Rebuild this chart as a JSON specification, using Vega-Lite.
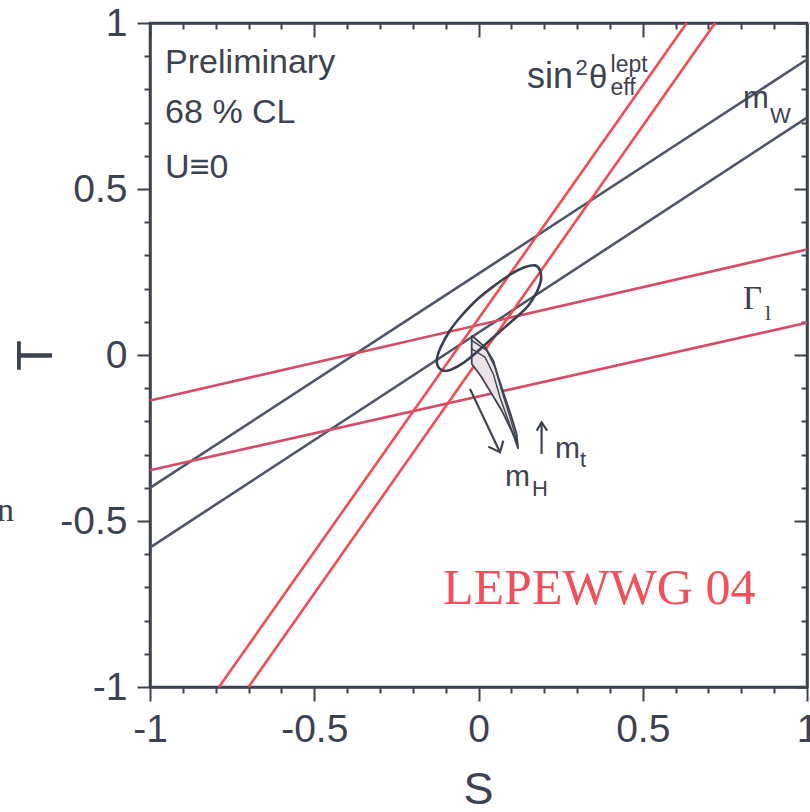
{
  "$schema": "https://vega.github.io/schema/vega-lite/v6.json",
  "width": 657,
  "height": 664,
  "autosize": {"type": "none"},
  "padding": {"left": 150, "top": 23, "right": 3, "bottom": 125},
  "background": "white",
  "config": {
    "view": {"stroke": "#3d4250", "strokeWidth": 2.5},
    "font": "Liberation Sans",
    "axis": {"grid": false, "domainColor": "#3d4250", "domainWidth": 2.5, "tickColor": "#3d4250", "tickWidth": 2, "labelColor": "#3d4250", "titleColor": "#3d4250", "labelFont": "Liberation Sans", "titleFont": "Liberation Sans", "labelFontSize": 39, "titleFontWeight": "normal", "labelOverlap": false, "labelFlush": false, "labelBound": false}
  },
  "datasets": {
    "lines": [
      {"id": "mW1", "g": "mW", "o": 0, "S": -1, "T": -0.40},
      {"id": "mW1", "g": "mW", "o": 1, "S": 1, "T": 0.89},
      {"id": "mW2", "g": "mW", "o": 0, "S": -1, "T": -0.58},
      {"id": "mW2", "g": "mW", "o": 1, "S": 1, "T": 0.715},
      {"id": "G1", "g": "Gl", "o": 0, "S": -1, "T": -0.137},
      {"id": "G1", "g": "Gl", "o": 1, "S": 1, "T": 0.318},
      {"id": "G2", "g": "Gl", "o": 0, "S": -1, "T": -0.347},
      {"id": "G2", "g": "Gl", "o": 1, "S": 1, "T": 0.097},
      {"id": "s1", "g": "sin", "o": 0, "S": -0.79, "T": -1},
      {"id": "s1", "g": "sin", "o": 1, "S": 0.634, "T": 1},
      {"id": "s2", "g": "sin", "o": 0, "S": -0.70, "T": -1},
      {"id": "s2", "g": "sin", "o": 1, "S": 0.72, "T": 1}
    ],
    "ellipse": [
      {"o": 1, "S": 0.172, "T": 0.270},
      {"o": 2, "S": 0.187, "T": 0.255},
      {"o": 3, "S": 0.190, "T": 0.225},
      {"o": 4, "S": 0.177, "T": 0.189},
      {"o": 5, "S": 0.152, "T": 0.149},
      {"o": 6, "S": 0.121, "T": 0.119},
      {"o": 7, "S": 0.081, "T": 0.084},
      {"o": 8, "S": 0.040, "T": 0.049},
      {"o": 9, "S": -0.011, "T": 0.004},
      {"o": 10, "S": -0.051, "T": -0.027},
      {"o": 11, "S": -0.092, "T": -0.047},
      {"o": 12, "S": -0.117, "T": -0.042},
      {"o": 13, "S": -0.127, "T": -0.017},
      {"o": 14, "S": -0.117, "T": 0.019},
      {"o": 15, "S": -0.087, "T": 0.074},
      {"o": 16, "S": -0.051, "T": 0.119},
      {"o": 17, "S": -0.001, "T": 0.170},
      {"o": 18, "S": 0.050, "T": 0.210},
      {"o": 19, "S": 0.101, "T": 0.245},
      {"o": 20, "S": 0.142, "T": 0.265}
    ],
    "wedge": [
      {"o": 1, "S": -0.0207, "T": 0.0588},
      {"o": 2, "S": 0.0198, "T": 0.0235},
      {"o": 3, "S": 0.045, "T": -0.0166},
      {"o": 4, "S": 0.0603, "T": -0.067},
      {"o": 5, "S": 0.0807, "T": -0.127},
      {"o": 6, "S": 0.101, "T": -0.188},
      {"o": 7, "S": 0.116, "T": -0.238},
      {"o": 8, "S": 0.121, "T": -0.283},
      {"o": 9, "S": 0.110, "T": -0.250},
      {"o": 10, "S": 0.0959, "T": -0.218},
      {"o": 11, "S": 0.0706, "T": -0.167},
      {"o": 12, "S": 0.0402, "T": -0.117},
      {"o": 13, "S": 0.0097, "T": -0.067},
      {"o": 14, "S": -0.0207, "T": -0.0265},
      {"o": 15, "S": -0.0207, "T": 0.0588}
    ],
    "inner": [
      {"id": "i1", "o": 1, "S": -0.0207, "T": 0.0187},
      {"id": "i1", "o": 2, "S": 0.0198, "T": -0.0066},
      {"id": "i1", "o": 3, "S": 0.045, "T": -0.057},
      {"id": "i1", "o": 4, "S": 0.0654, "T": -0.127},
      {"id": "i1", "o": 5, "S": 0.0908, "T": -0.198},
      {"id": "i1", "o": 6, "S": 0.116, "T": -0.268},
      {"id": "i2", "o": 1, "S": -0.0207, "T": 0.044},
      {"id": "i2", "o": 2, "S": 0.025, "T": 0.0136},
      {"id": "i2", "o": 3, "S": 0.050, "T": -0.037},
      {"id": "i2", "o": 4, "S": 0.0706, "T": -0.107},
      {"id": "i2", "o": 5, "S": 0.096, "T": -0.188},
      {"id": "i2", "o": 6, "S": 0.119, "T": -0.268}
    ],
    "arrows": [
      {"id": "aH", "o": 0, "S": -0.026, "T": -0.102},
      {"id": "aH", "o": 1, "S": 0.0655, "T": -0.293},
      {"id": "hH", "o": 0, "S": 0.0298, "T": -0.276},
      {"id": "hH", "o": 1, "S": 0.0655, "T": -0.293},
      {"id": "hH", "o": 2, "S": 0.0755, "T": -0.258},
      {"id": "at", "o": 0, "S": 0.192, "T": -0.298},
      {"id": "at", "o": 1, "S": 0.192, "T": -0.203},
      {"id": "ht", "o": 0, "S": 0.177, "T": -0.228},
      {"id": "ht", "o": 1, "S": 0.192, "T": -0.203},
      {"id": "ht", "o": 2, "S": 0.209, "T": -0.228}
    ],
    "sans": [
      {"S": -0.954, "T": 0.849, "txt": "Preliminary", "sz": 34},
      {"S": -0.954, "T": 0.698, "txt": "68 % CL", "sz": 34},
      {"S": -0.954, "T": 0.532, "txt": "U≡0", "sz": 34},
      {"S": 0.148, "T": 0.804, "txt": "sin", "sz": 36},
      {"S": 0.295, "T": 0.843, "txt": "2", "sz": 22},
      {"S": 0.336, "T": 0.804, "txt": "θ", "sz": 33},
      {"S": 0.402, "T": 0.852, "txt": "lept", "sz": 23},
      {"S": 0.402, "T": 0.783, "txt": "eff", "sz": 23},
      {"S": 0.805, "T": 0.744, "txt": "m", "sz": 31},
      {"S": 0.887, "T": 0.698, "txt": "W", "sz": 22},
      {"S": 0.233, "T": -0.309, "txt": "m", "sz": 30},
      {"S": 0.309, "T": -0.336, "txt": "t", "sz": 22},
      {"S": 0.081, "T": -0.394, "txt": "m", "sz": 30},
      {"S": 0.163, "T": -0.424, "txt": "H", "sz": 22}
    ],
    "serif": [
      {"S": 0.805, "T": 0.140, "txt": "Γ", "sz": 33},
      {"S": 0.872, "T": 0.104, "txt": "l", "sz": 22},
      {"S": -1.466, "T": -0.499, "txt": "n", "sz": 34}
    ],
    "stamp": [
      {"S": -0.108, "T": -0.750, "txt": "LEPEWWG 04"}
    ]
  },
  "layer": [
    {
      "data": {"name": "lines"},
      "mark": {"type": "line", "strokeWidth": 2.6},
      "encoding": {
        "x": {"field": "S", "type": "quantitative", "scale": {"domain": [-1, 1], "nice": false, "zero": false},
          "axis": {"orient": "bottom", "title": "S", "titleFontSize": 45, "values": [-1, -0.9, -0.8, -0.7, -0.6, -0.5, -0.4, -0.3, -0.2, -0.1, 0, 0.1, 0.2, 0.3, 0.4, 0.5, 0.6, 0.7, 0.8, 0.9, 1],
            "tickSize": {"condition": {"test": "abs(datum.value*2-round(datum.value*2))<0.001", "value": 14}, "value": 6},
            "labelExpr": "abs(datum.value*2-round(datum.value*2))<0.001 ? toString(datum.value) : ''",
            "labelPadding": 9, "titleX": 328, "titleY": 102, "titleBaseline": "middle"}},
        "y": {"field": "T", "type": "quantitative", "scale": {"domain": [-1, 1], "nice": false, "zero": false},
          "axis": {"orient": "left", "title": "T", "titleFontSize": 50, "values": [-1, -0.9, -0.8, -0.7, -0.6, -0.5, -0.4, -0.3, -0.2, -0.1, 0, 0.1, 0.2, 0.3, 0.4, 0.5, 0.6, 0.7, 0.8, 0.9, 1],
            "tickSize": {"condition": {"test": "abs(datum.value*2-round(datum.value*2))<0.001", "value": 13}, "value": 6},
            "labelExpr": "abs(datum.value*2-round(datum.value*2))<0.001 ? toString(datum.value) : ''",
            "labelPadding": 10, "titleX": -114, "titleY": 332, "titleBaseline": "middle"}},
        "detail": {"field": "id"},
        "order": {"field": "o"},
        "color": {"field": "g", "type": "nominal", "legend": null, "scale": {"domain": ["mW", "sin", "Gl"], "range": ["#4e5567", "#f24b55", "#d64b68"]}}
      }
    },
    {
      "data": {"name": "wedge"},
      "mark": {"type": "line", "fill": "#ebe3e8", "stroke": "#3d4250", "strokeWidth": 1.8},
      "encoding": {
        "x": {"field": "S", "type": "quantitative", "scale": {"domain": [-1, 1], "nice": false, "zero": false},
          "axis": {"orient": "top", "title": null, "labels": false, "values": [-1, -0.9, -0.8, -0.7, -0.6, -0.5, -0.4, -0.3, -0.2, -0.1, 0, 0.1, 0.2, 0.3, 0.4, 0.5, 0.6, 0.7, 0.8, 0.9, 1],
            "tickSize": {"condition": {"test": "abs(datum.value*2-round(datum.value*2))<0.001", "value": -14}, "value": -6}}},
        "y": {"field": "T", "type": "quantitative", "scale": {"domain": [-1, 1], "nice": false, "zero": false},
          "axis": {"orient": "right", "title": null, "labels": false, "values": [-1, -0.9, -0.8, -0.7, -0.6, -0.5, -0.4, -0.3, -0.2, -0.1, 0, 0.1, 0.2, 0.3, 0.4, 0.5, 0.6, 0.7, 0.8, 0.9, 1],
            "tickSize": {"condition": {"test": "abs(datum.value*2-round(datum.value*2))<0.001", "value": -13}, "value": -6}}},
        "order": {"field": "o"}
      }
    },
    {
      "data": {"name": "inner"},
      "mark": {"type": "line", "stroke": "#3d4250", "strokeWidth": 1.4},
      "encoding": {
        "x": {"field": "S", "type": "quantitative", "scale": {"domain": [-1, 1], "nice": false, "zero": false}, "axis": null},
        "y": {"field": "T", "type": "quantitative", "scale": {"domain": [-1, 1], "nice": false, "zero": false}, "axis": null},
        "detail": {"field": "id"},
        "order": {"field": "o"}
      }
    },
    {
      "data": {"name": "ellipse"},
      "mark": {"type": "line", "stroke": "#3a3f4e", "strokeWidth": 2.6, "interpolate": "cardinal-closed"},
      "encoding": {
        "x": {"field": "S", "type": "quantitative", "scale": {"domain": [-1, 1], "nice": false, "zero": false}, "axis": null},
        "y": {"field": "T", "type": "quantitative", "scale": {"domain": [-1, 1], "nice": false, "zero": false}, "axis": null},
        "order": {"field": "o"}
      }
    },
    {
      "data": {"name": "arrows"},
      "mark": {"type": "line", "stroke": "#3d4250", "strokeWidth": 2.2},
      "encoding": {
        "x": {"field": "S", "type": "quantitative", "scale": {"domain": [-1, 1], "nice": false, "zero": false}, "axis": null},
        "y": {"field": "T", "type": "quantitative", "scale": {"domain": [-1, 1], "nice": false, "zero": false}, "axis": null},
        "detail": {"field": "id"},
        "order": {"field": "o"}
      }
    },
    {
      "data": {"name": "sans"},
      "mark": {"type": "text", "align": "left", "baseline": "alphabetic", "font": "Liberation Sans", "color": "#3d4250"},
      "encoding": {
        "x": {"field": "S", "type": "quantitative", "scale": {"domain": [-1, 1], "nice": false, "zero": false}, "axis": null},
        "y": {"field": "T", "type": "quantitative", "scale": {"domain": [-1, 1], "nice": false, "zero": false}, "axis": null},
        "text": {"field": "txt"},
        "size": {"field": "sz", "type": "quantitative", "scale": null}
      }
    },
    {
      "data": {"name": "serif"},
      "mark": {"type": "text", "align": "left", "baseline": "alphabetic", "font": "Liberation Serif", "color": "#3d4250"},
      "encoding": {
        "x": {"field": "S", "type": "quantitative", "scale": {"domain": [-1, 1], "nice": false, "zero": false}, "axis": null},
        "y": {"field": "T", "type": "quantitative", "scale": {"domain": [-1, 1], "nice": false, "zero": false}, "axis": null},
        "text": {"field": "txt"},
        "size": {"field": "sz", "type": "quantitative", "scale": null}
      }
    },
    {
      "data": {"name": "stamp"},
      "mark": {"type": "text", "align": "left", "baseline": "alphabetic", "fontSize": 50, "font": "Liberation Serif", "color": "#f0505a"},
      "encoding": {
        "x": {"field": "S", "type": "quantitative", "scale": {"domain": [-1, 1], "nice": false, "zero": false}, "axis": null},
        "y": {"field": "T", "type": "quantitative", "scale": {"domain": [-1, 1], "nice": false, "zero": false}, "axis": null},
        "text": {"field": "txt"}
      }
    }
  ],
  "resolve": {"axis": {"x": "independent", "y": "independent"}}
}
